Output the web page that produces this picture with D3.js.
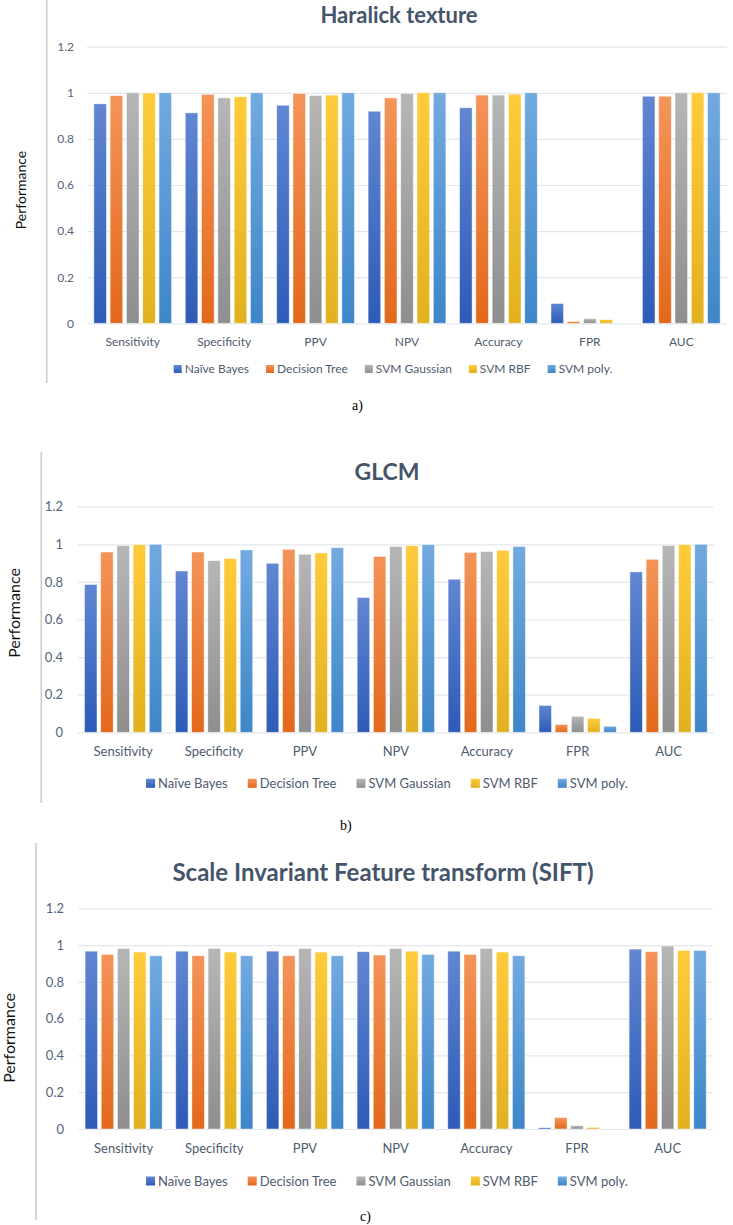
<!DOCTYPE html>
<html>
<head>
<meta charset="utf-8">
<script src="https://cdn.jsdelivr.net/npm/d3@7"></script>
<style>
  body { margin: 0; background: #fff; }
  text { font-family: Lato, "Open Sans", sans-serif; }
</style>
</head>
<body>
<svg id="chart" width="733" height="1225"></svg>
<script>
// metrics on the x axis
var categories = ['Sensitivity', 'Specificity', 'PPV', 'NPV', 'Accuracy', 'FPR', 'AUC'];
var classifiers = ['Naïve Bayes', 'Decision Tree', 'SVM Gaussian', 'SVM RBF', 'SVM poly.'];
var yTicks = [0, 0.2, 0.4, 0.6, 0.8, 1, 1.2];

// Haralick texture, one array per classifier
var haralickNB   = [0.952, 0.913, 0.946, 0.920, 0.935, 0.086, 0.985];
var haralickDT   = [0.988, 0.993, 0.997, 0.978, 0.990, 0.008, 0.985];
var haralickGau  = [1.000, 0.978, 0.988, 0.997, 0.990, 0.020, 1.000];
var haralickRBF  = [0.999, 0.983, 0.990, 1.000, 0.994, 0.016, 1.000];
var haralickPoly = [1.000, 1.000, 1.000, 1.000, 1.000, 0.000, 1.000];

// GLCM
var glcmNB   = [0.786, 0.858, 0.899, 0.717, 0.814, 0.143, 0.853];
var glcmDT   = [0.959, 0.959, 0.973, 0.936, 0.957, 0.042, 0.920];
var glcmGau  = [0.993, 0.913, 0.947, 0.988, 0.961, 0.085, 0.993];
var glcmRBF  = [0.998, 0.924, 0.954, 0.993, 0.968, 0.074, 0.998];
var glcmPoly = [1.000, 0.970, 0.982, 0.998, 0.988, 0.032, 1.000];

// SIFT
var siftNB   = [0.967, 0.967, 0.967, 0.964, 0.967, 0.007, 0.978];
var siftDT   = [0.949, 0.942, 0.942, 0.946, 0.949, 0.062, 0.964];
var siftGau  = [0.982, 0.982, 0.982, 0.982, 0.982, 0.018, 0.995];
var siftRBF  = [0.962, 0.962, 0.962, 0.967, 0.962, 0.009, 0.971];
var siftPoly = [0.942, 0.942, 0.942, 0.949, 0.942, 0.000, 0.971];

var colorTop    = ['#6186d2', '#f49459', '#b6b6b6', '#ffcb3a', '#72aadf'];
var colorBottom = ['#2d5bb7', '#e3681b', '#8e8e8e', '#e2b11f', '#3d86c8'];

var svg = d3.select('#chart');
svg.append('rect').attr('width', 733).attr('height', 1225).attr('fill', '#fff');

var defs = svg.append('defs');
classifiers.forEach(function(c, i) {
    var g = defs.append('linearGradient').attr('id', 'grad' + i)
        .attr('x1', 0).attr('y1', 0).attr('x2', 0).attr('y2', 1);
    g.append('stop').attr('offset', '0%').attr('stop-color', colorTop[i]);
    g.append('stop').attr('offset', '100%').attr('stop-color', colorBottom[i]);
});

function drawPanel(p) {
    var root = svg.append('g');

    // left frame line of the chart area
    root.append('line')
        .attr('x1', p.frameX).attr('x2', p.frameX)
        .attr('y1', p.frameTop).attr('y2', p.frameBottom)
        .attr('stroke', '#c9c9c9').attr('stroke-width', 1.5);

    var y = d3.scaleLinear().domain([0, 1.2]).range([p.bottom, p.top]);
    var x0 = d3.scaleBand().domain(categories).range([p.left, p.right]);
    var x1 = d3.scaleBand().domain(classifiers).range([0, x0.bandwidth()])
        .paddingInner(0.23).paddingOuter(0.42);

    // gridlines + tick labels
    var yAxis = d3.axisLeft(y).tickValues(yTicks).tickSize(-(p.right - p.left))
        .tickPadding(p.left - p.tickRight).tickFormat(function(d) { return String(d); });
    var ga = root.append('g').attr('transform', 'translate(' + p.left + ',0)').call(yAxis);
    ga.select('.domain').remove();
    ga.selectAll('line').attr('stroke', '#e3e7ec').attr('stroke-width', 1.2);
    ga.selectAll('text').attr('fill', '#56637a').attr('font-size', p.tickSize);

    // bars
    var rows = categories.map(function(c, ci) {
        return classifiers.map(function(s, si) {
            return {cat: c, ser: s, si: si, v: p.values[si][ci]};
        });
    });
    root.selectAll('.grp').data(rows).enter().append('g')
        .attr('transform', function(d, i) { return 'translate(' + x0(categories[i]) + ',0)'; })
        .selectAll('rect').data(function(d) { return d.filter(function(e) { return e.v > 0; }); })
        .enter().append('rect')
        .attr('x', function(d) { return x1(d.ser); })
        .attr('width', x1.bandwidth())
        .attr('y', function(d) { return y(d.v); })
        .attr('height', function(d) { return p.bottom - y(d.v); })
        .attr('fill', function(d) { return 'url(#grad' + d.si + ')'; })
        .attr('stroke', 'rgba(255,255,255,0.55)').attr('stroke-width', 0.8);

    // category labels
    var xAxis = d3.axisBottom(x0).tickSize(0).tickPadding(0);
    var gx = root.append('g').attr('transform', 'translate(0,' + p.catY + ')').call(xAxis);
    gx.select('.domain').remove();
    gx.selectAll('text').attr('fill', '#4f5b6e').attr('font-size', p.catSize)
        .attr('dy', '0.35em');

    // title
    root.append('text').attr('x', p.titleX).attr('y', p.titleY).attr('dy', '0.35em')
        .attr('text-anchor', 'middle').attr('font-weight', 'bold')
        .attr('font-size', p.titleSize).attr('fill', '#44546a').text(p.title);

    // y axis title
    root.append('text')
        .attr('transform', 'translate(' + p.perfX + ',' + p.perfY + ') rotate(-90)')
        .attr('text-anchor', 'middle').attr('dy', '0.35em')
        .attr('font-size', p.perfSize).attr('fill', '#111').text('Performance');

    // legend
    var lg = root.append('g');
    var cx = 0;
    classifiers.forEach(function(c, i) {
        var it = lg.append('g');
        it.append('rect').attr('x', 0).attr('y', -p.legSq / 2)
            .attr('width', p.legSq).attr('height', p.legSq).attr('fill', 'url(#grad' + i + ')');
        var t = it.append('text').attr('x', p.legSq + 3).attr('dy', '0.35em')
            .attr('font-size', p.legSize).attr('fill', '#4f5b6e').text(c);
        var w = p.legSq + 3 + t.node().getComputedTextLength();
        it.attr('transform', 'translate(' + cx + ',0)');
        cx += w + p.legGap;
    });
    var total = cx - p.legGap;
    lg.attr('transform', 'translate(' + (p.legCenter - total / 2) + ',' + p.legY + ')');

    // caption under the figure
    svg.append('text').attr('x', p.capX).attr('y', p.capY).attr('dy', '0.35em')
        .style('font-family', '"Liberation Serif", "Times New Roman", serif')
        .attr('font-size', 14).attr('fill', '#000').text(p.caption);
}

drawPanel({
    title: 'Haralick texture', caption: 'a)',
    values: [haralickNB, haralickDT, haralickGau, haralickRBF, haralickPoly],
    top: 46.7, bottom: 323.3, left: 87, right: 727,
    frameX: 46.7, frameTop: 0, frameBottom: 383,
    titleX: 399, titleY: 15, titleSize: 22,
    tickSize: 12, tickRight: 74,
    catY: 341.7, catSize: 12,
    legY: 369, legSize: 12, legSq: 8, legGap: 17, legCenter: 393,
    perfX: 20.7, perfY: 190, perfSize: 14,
    capX: 352, capY: 405
});

drawPanel({
    title: 'GLCM', caption: 'b)',
    values: [glcmNB, glcmDT, glcmGau, glcmRBF, glcmPoly],
    top: 506.7, bottom: 732.3, left: 77.7, right: 714,
    frameX: 41.3, frameTop: 452, frameBottom: 803,
    titleX: 387, titleY: 472, titleSize: 23,
    tickSize: 13, tickRight: 63,
    catY: 751.7, catSize: 13,
    legY: 783.3, legSize: 13, legSq: 9, legGap: 20, legCenter: 387,
    perfX: 14.3, perfY: 613, perfSize: 16,
    capX: 340, capY: 825
});

drawPanel({
    title: 'Scale Invariant Feature transform (SIFT)', caption: 'c)',
    values: [siftNB, siftDT, siftGau, siftRBF, siftPoly],
    top: 908.3, bottom: 1129, left: 78.3, right: 713,
    frameX: 36, frameTop: 843, frameBottom: 1220,
    titleX: 383, titleY: 873, titleSize: 24,
    tickSize: 13, tickRight: 64,
    catY: 1148, catSize: 13,
    legY: 1181, legSize: 13, legSq: 9, legGap: 20, legCenter: 387,
    perfX: 9.3, perfY: 1038, perfSize: 16,
    capX: 360, capY: 1216
});
</script>
</body>
</html>
